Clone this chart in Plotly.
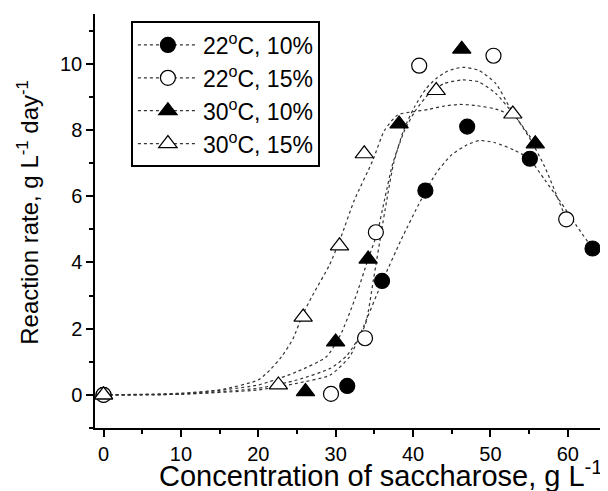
import plotly.graph_objects as go

# ---- measured data points ----
labels = ["22<sup>o</sup>C, 10%", "22<sup>o</sup>C, 15%", "30<sup>o</sup>C, 10%", "30<sup>o</sup>C, 15%"]

x_22_10 = [0, 31.5, 36.0, 41.6, 47.0, 55.1, 63.2]
y_22_10 = [0, 0.27, 3.44, 6.17, 8.10, 7.13, 4.42]

x_22_15 = [0, 29.4, 33.8, 35.2, 40.8, 50.4, 59.8]
y_22_15 = [0, 0.03, 1.71, 4.91, 9.94, 10.24, 5.30]

x_30_10 = [0, 26.1, 30.0, 34.2, 38.2, 46.3, 55.8]
y_30_10 = [0, 0.10, 1.60, 4.10, 8.18, 10.44, 7.58]

x_30_15 = [0, 22.6, 25.8, 30.5, 33.7, 43.0, 52.9]
y_30_15 = [0, 0.30, 2.35, 4.50, 7.28, 9.19, 8.48]

# ---- fitted curves ----
cx_22_10 = [0, 10, 20, 25, 29.3, 31.8, 33.6, 36.1, 38.5, 41.0, 43.0, 45.0, 47.0, 48.6, 50.5, 53.0, 55.0, 57.0, 59.0, 61.0, 63.2]
cy_22_10 = [0, 0.02, 0.15, 0.35, 0.60, 1.15, 2.06, 3.46, 4.70, 5.87, 6.70, 7.25, 7.55, 7.68, 7.62, 7.40, 7.13, 6.50, 5.85, 5.15, 4.42]

cx_22_15 = [0, 10, 20, 25, 29.3, 31.5, 33.8, 34.9, 35.9, 36.6, 37.5, 38.8, 40.2, 41.7, 43.0, 44.5, 46.4, 48.5, 50.7, 52.5, 55.0, 57.0, 59.8]
cy_22_15 = [0, 0.02, 0.20, 0.45, 0.80, 1.20, 2.10, 3.50, 4.91, 5.87, 7.00, 8.00, 8.70, 9.25, 9.55, 9.78, 9.89, 9.80, 9.40, 8.68, 7.78, 6.90, 5.30]

cx_30_10 = [0, 10, 20, 25, 28.8, 30.6, 32.5, 34.2, 35.4, 36.3, 37.4, 38.9, 40.3, 42.1, 44.0, 46.4, 48.5, 50.7, 52.9, 55.8]
cy_30_10 = [0, 0.03, 0.30, 0.70, 1.15, 1.80, 2.90, 4.10, 4.91, 5.87, 7.00, 7.98, 8.58, 9.10, 9.40, 9.51, 9.45, 9.10, 8.50, 7.58]

cx_30_15 = [0, 10, 15, 20, 21.5, 23.0, 24.5, 25.7, 27.0, 29.2, 30.7, 32.4, 34.8, 36.3, 38.0, 40.0, 42.0, 44.0, 46.0, 48.0, 50.7, 52.9]
cy_30_15 = [0, 0.05, 0.15, 0.45, 0.75, 1.15, 1.70, 2.40, 3.00, 3.92, 4.77, 5.87, 7.08, 7.98, 8.45, 8.55, 8.62, 8.72, 8.77, 8.74, 8.63, 8.43]

x_ticks = [0, 10, 20, 30, 40, 50, 60]
y_ticks = [0, 2, 4, 6, 8, 10]

x_title = "Concentration of saccharose, g L<sup>-1</sup>"
y_title = "Reaction rate, g L<sup>-1</sup> day<sup>-1</sup>"

FONT = "Liberation Sans, Arial, sans-serif"

series = [
    (x_22_10, y_22_10, cx_22_10, cy_22_10, "circle", "black"),
    (x_22_15, y_22_15, cx_22_15, cy_22_15, "circle", "white"),
    (x_30_10, y_30_10, cx_30_10, cy_30_10, "triangle-up", "black"),
    (x_30_15, y_30_15, cx_30_15, cy_30_15, "triangle-up", "white"),
]

fig = go.Figure()
line_style = dict(color="#333333", width=1.2, dash="dot", shape="spline", smoothing=0.6)

for xs, ys, cxs, cys, sym, fill in series:
    fig.add_trace(go.Scatter(x=cxs, y=cys, mode="lines", line=line_style,
                             showlegend=False, hoverinfo="skip"))

for (xs, ys, cxs, cys, sym, fill), name in zip(series, labels):
    size = 15 if sym == "circle" else 16
    fig.add_trace(go.Scatter(x=xs, y=ys, mode="markers", showlegend=False,
                             marker=dict(symbol=sym, size=size, color=fill,
                                         line=dict(color="black", width=1.2))))

# legend entries (line + marker sample)
for (xs, ys, cxs, cys, sym, fill), name in zip(series, labels):
    size = 15 if sym == "circle" else 16
    fig.add_trace(go.Scatter(x=[None], y=[None], mode="lines+markers", name=name,
                             line=dict(color="#333333", width=1.2, dash="dot"),
                             marker=dict(symbol=sym, size=size, color=fill,
                                         line=dict(color="black", width=1.2))))

axis_common = dict(
    showline=True, linecolor="black", linewidth=1.5, mirror=False,
    ticks="outside", ticklen=7, tickwidth=1.5, tickcolor="black",
    showgrid=False, zeroline=False, automargin=False,
    tickfont=dict(family=FONT, size=20, color="black"),
)

fig.update_xaxes(range=[-1.1, 65.2], tickvals=x_ticks,
                 minor=dict(dtick=5, tick0=0, ticklen=4, tickwidth=1.5, tickcolor="black", ticks="outside"),
                 **axis_common)
fig.update_yaxes(range=[-1.0, 11.5], tickvals=y_ticks,
                 minor=dict(dtick=1, tick0=0, ticklen=4, tickwidth=1.5, tickcolor="black", ticks="outside"),
                 **axis_common)

# axis titles as annotations (placed as in the reference)
fig.add_annotation(text=x_title, xref="paper", yref="paper", x=0.5575, y=-0.11,
                   xanchor="center", yanchor="middle", showarrow=False,
                   font=dict(family=FONT, size=29, color="black"))
fig.add_annotation(text=y_title, xref="paper", yref="paper", x=-0.1306, y=0.52,
                   xanchor="center", yanchor="middle", showarrow=False, textangle=-90,
                   font=dict(family=FONT, size=24, color="black"))

# page body has an 8px margin: size the figure so the plot lands where the reference's does
fig.update_layout(
    width=600, height=483,
    margin=dict(l=87, r=0, t=6, b=63),
    paper_bgcolor="white", plot_bgcolor="white",
    font=dict(family=FONT, color="black"),
    legend=dict(x=0.07, y=0.982, xanchor="left", yanchor="top",
                bgcolor="white", bordercolor="black", borderwidth=2,
                font=dict(family=FONT, size=23, color="black"),
                tracegroupgap=0, itemwidth=60),
)

fig.write_html("out.html")
